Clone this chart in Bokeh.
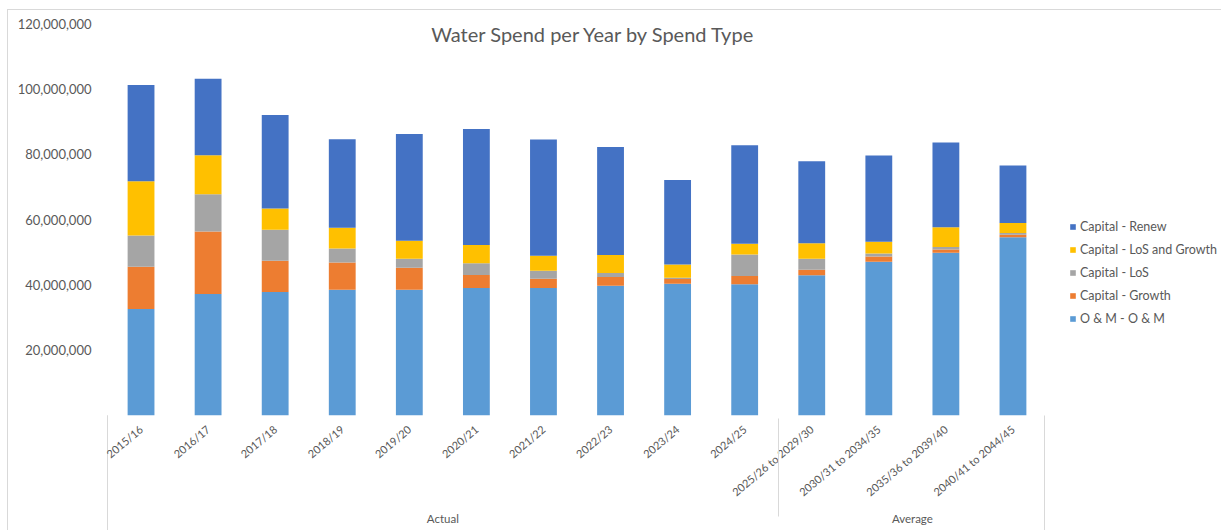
from bokeh.plotting import figure
from bokeh.layouts import row
from bokeh.models import (ColumnDataSource, FactorRange, Range1d, FixedTicker,
                          NumeralTickFormatter, Legend, LegendItem, Label)
from bokeh.embed import file_html
from bokeh.resources import INLINE

# ---------------- data ----------------
categories = ["2015/16", "2016/17", "2017/18", "2018/19", "2019/20", "2020/21",
              "2021/22", "2022/23", "2023/24", "2024/25",
              "2025/26 to 2029/30", "2030/31 to 2034/35",
              "2035/36 to 2039/40", "2040/41 to 2044/45"]
om_om = [32.6, 37.2, 37.8, 38.5, 38.5, 39.0, 39.0, 39.7, 40.3, 40.2, 42.9, 47.1, 49.8, 54.6]
cap_growth = [12.9, 19.1, 9.6, 8.3, 6.7, 4.0, 2.9, 2.7, 1.5, 2.5, 1.7, 1.6, 1.0, 0.7]
cap_los = [9.6, 11.4, 9.5, 4.3, 2.8, 3.6, 2.4, 1.2, 0.4, 6.6, 3.4, 0.9, 0.8, 0.6]
cap_los_growth = [16.6, 12.0, 6.5, 6.4, 5.5, 5.6, 4.6, 5.5, 4.0, 3.3, 4.7, 3.6, 6.0, 3.0]
cap_renew = [29.5, 23.4, 28.6, 27.1, 32.7, 35.5, 35.6, 33.1, 25.9, 30.1, 25.1, 26.4, 26.0, 17.6]
series_names = ["O & M - O & M", "Capital - Growth", "Capital - LoS",
                "Capital - LoS and Growth", "Capital - Renew"]
series_colors = ["#5B9BD5", "#ED7D31", "#A5A5A5", "#FFC000", "#4472C4"]
group_labels = ["Actual", "Average"]
group_sizes = [10, 4]
y_ticks = [20e6, 40e6, 60e6, 80e6, 100e6, 120e6]
title_text = "Water Spend per Year by Spend Type"

MILLION = 1e6
groups = []
for g, n in zip(group_labels, group_sizes):
    groups += [g] * n
factors = list(zip(groups, categories))

keys = ["om", "growth", "los", "losg", "renew"]
source = ColumnDataSource(dict(
    x=factors,
    om=[v * MILLION for v in om_om],
    growth=[v * MILLION for v in cap_growth],
    los=[v * MILLION for v in cap_los],
    losg=[v * MILLION for v in cap_los_growth],
    renew=[v * MILLION for v in cap_renew],
))

TXT = "#595959"
LINE = "#d9d9d9"
FONT = "Lato"
Y_MAX = 120e6
FRAME_H = 392  # px
W_MAIN = 1046
W_LEG = 1221 - W_MAIN
H = 530

p = figure(x_range=FactorRange(*factors, group_padding=0, factor_padding=0),
           y_range=Range1d(0, Y_MAX),
           width=W_MAIN, height=H, output_backend="svg", toolbar_location=None,
           min_border_left=107, min_border_right=0, min_border_top=23,
           min_border_bottom=115, title=None)
p.outline_line_color = None
p.border_fill_color = None
p.xgrid.visible = False
p.ygrid.visible = False

rs = p.vbar_stack(keys, x="x", width=0.4, color=series_colors,
                  line_color=None, source=source)

# y axis
p.yaxis.ticker = FixedTicker(ticks=y_ticks)
p.yaxis.formatter = NumeralTickFormatter(format="0,0")
p.yaxis.axis_line_color = None
p.yaxis.major_tick_line_color = None
p.yaxis.minor_tick_line_color = None
p.yaxis.major_label_standoff = 10
p.yaxis.major_label_text_font = FONT
p.yaxis.major_label_text_font_size = "13px"
p.yaxis.major_label_text_color = TXT

# x axis (two-level categories)
ax = p.xaxis[0]
ax.major_label_orientation = 0.70
ax.axis_line_color = None
ax.major_tick_line_color = None
ax.major_label_standoff = 6
ax.major_label_text_font = FONT
ax.major_label_text_font_size = "11px"
ax.major_label_text_color = TXT
ax.group_text_font = FONT
ax.group_text_font_size = "11.5px"
ax.group_text_font_style = "normal"
ax.group_text_color = TXT
ax.separator_line_color = LINE
ax.separator_line_width = 1

px = Y_MAX / FRAME_H  # data units per pixel

# title
p.add_layout(Label(x=7.25, y=Y_MAX - 10 * px, text=title_text,
                   text_align="center", text_baseline="middle",
                   text_font=FONT, text_font_size="20px", text_color=TXT))

# legend panel (separate small figure to the right)
q = figure(width=W_LEG, height=H, output_backend="svg", toolbar_location=None,
           x_range=Range1d(0, 1), y_range=Range1d(0, 1),
           x_axis_type=None, y_axis_type=None, min_border=0, title=None)
q.outline_line_color = None
q.border_fill_color = None
q.background_fill_color = None
q.xgrid.visible = False
q.ygrid.visible = False
# swatch renderers for the legend keys (placed outside the visible range)
key_rs = [q.vbar(x=[5], top=[0.5], width=0.1, color=c, line_color=None)
          for c in series_colors]
items = [LegendItem(label=series_names[i], renderers=[key_rs[i]]) for i in range(4, -1, -1)]
legend = Legend(items=items, location=(23, 87), padding=0, margin=0,
                border_line_color=None, background_fill_alpha=0,
                glyph_width=7, glyph_height=7, label_standoff=4, spacing=3,
                label_height=20, label_text_font=FONT,
                label_text_font_size="12.5px", label_text_color=TXT)
q.add_layout(legend)

# chart-area border and outer category separators (Excel style)
grad = "linear-gradient(%s,%s)" % (LINE, LINE)
layout = row(p, q, spacing=0, styles={
    "background-color": "white",
    "background-image": ", ".join([grad] * 4),
    "background-size": "1214px 1px, 1px 521px, 1px 115px, 1px 115px",
    "background-position": "7px 9px, 7px 9px, 107px 415px, 1044px 415px",
    "background-repeat": "no-repeat",
})
open("out.html", "w").write(file_html(layout, INLINE))
